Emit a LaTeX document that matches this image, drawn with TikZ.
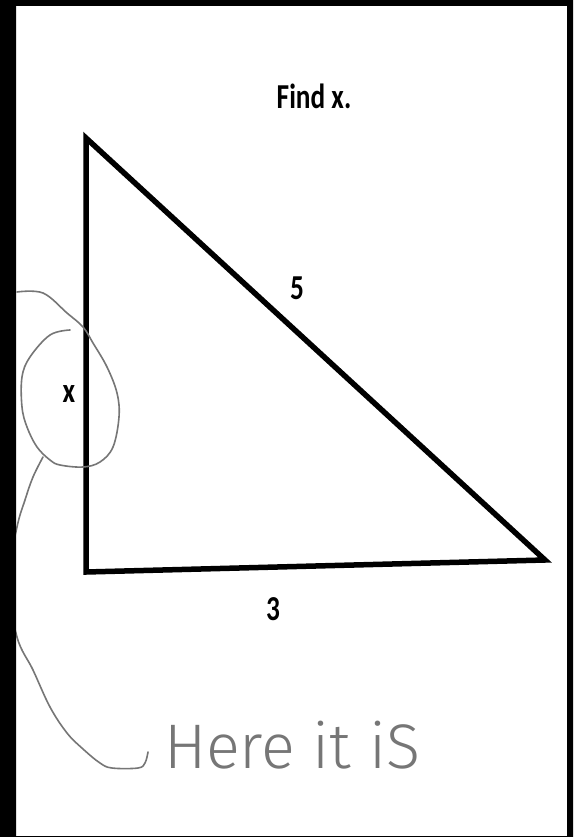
\documentclass[tikz,border=0pt]{standalone}
\usepackage{fontspec}
\usepackage{xcolor}
\newfontfamily\labelfont[FakeStretch=0.78]{Carlito}
\newfontfamily\handfont{Fira Sans Light}
\definecolor{pencil}{RGB}{118,118,118}

\begin{document}
\begin{tikzpicture}[
    x=1pt,y=-1pt,
    leg/.style={line width=5.5pt,line join=miter,black},
    lbl/.style={font=\labelfont\bfseries\fontsize{35}{40}\selectfont,anchor=base,inner sep=0pt},
    scrawl/.style={draw=pencil,line width=1.6pt,line cap=round,line join=round},
    hand/.style={font=\handfont\fontsize{63}{70}\selectfont,text=pencil,anchor=base,inner sep=0pt}
  ]
    \useasboundingbox (0,0) rectangle (573,837);
    \fill[white] (0,0) rectangle (573,837);

    % triangle
    \coordinate (top) at (86,138);
    \coordinate (corner) at (86,572);
    \coordinate (tip) at (545,560);
    \draw[leg] (top) -- (corner) -- (tip) -- cycle;

    \node[lbl] (title) at (314,109) {Find x.};
    \node[lbl] (hyp) at (297,299) {5};
    \node[lbl] (base) at (273,620) {3};
    \node[lbl] (side) at (69,402) {x};

    % the scribble round x
    \draw[scrawl] plot[smooth,tension=0.6] coordinates {
      (17,292) (43,293) (67,313) (83,327) (93,343) (107,367) (117,393)
      (119,417) (113,447) (100,462) (83,467) (60,465) (50,460) (37,447)
      (27,427) (22,407) (22,377) (30,357) (50,335) (70,330)};
    \coordinate (loop) at (43,457);
    \node[hand] (note) at (292,768) {Here it iS};
    \coordinate (hook) at (148,752);
    \draw[scrawl] plot[smooth,tension=0.6] coordinates {
      (loop) (33,477) (25,500) (17,527) (8,580) (17,637) (33,670) (50,707)
      (67,733) (83,749) (100,763) (112,768) (138,768) (145,763) (hook)};

    % frame
    \fill[black,even odd rule] (0,0) rectangle (573,837) (16,6) rectangle (567,836);
  \end{tikzpicture}
\end{document}
